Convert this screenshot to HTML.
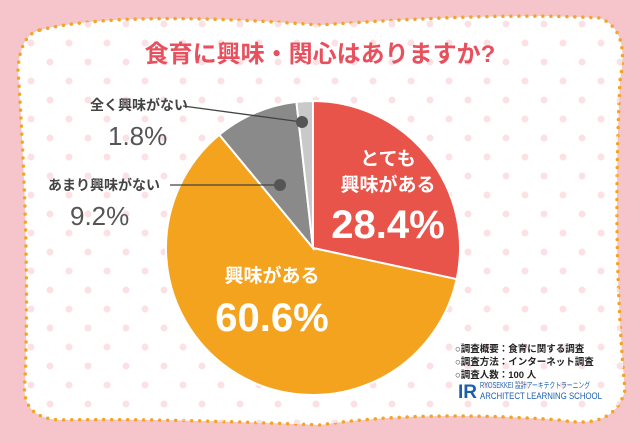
<!DOCTYPE html>
<html><head><meta charset="utf-8"><style>
html,body{margin:0;padding:0;width:640px;height:443px;overflow:hidden;background:#f5c5cb}
text{font-family:"Liberation Sans","Noto Sans CJK JP",sans-serif}
</style></head><body>
<svg width="640" height="443" viewBox="0 0 640 443">
<defs>
<pattern id="dots" width="38" height="38" patternUnits="userSpaceOnUse" x="2" y="14">
<circle cx="10" cy="10" r="3.5" fill="#fbe1e4"/><circle cx="29" cy="29" r="3.5" fill="#fbe1e4"/>
</pattern>
</defs>
<path d="M40,30 Q120,10 320,25 Q500,12 600,18 Q630,30 620,80 Q612,250 625,390 Q615,430 560,420 Q420,410 320,425 Q150,418 60,420 Q20,418 25,380 Q30,250 18,70 Q20,35 40,30 Z" fill="#fff" stroke="#f2a623" stroke-width="3.5" stroke-dasharray="0 8" stroke-linecap="round"/>
<path d="M40,30 Q120,10 320,25 Q500,12 600,18 Q630,30 620,80 Q612,250 625,390 Q615,430 560,420 Q420,410 320,425 Q150,418 60,420 Q20,418 25,380 Q30,250 18,70 Q20,35 40,30 Z" fill="url(#dots)"/>
<text x="320" y="62" text-anchor="middle" font-size="24" font-weight="bold" fill="#e8505e">食育に興味・関心はありますか?</text>
<g id="pie"></g>
<line x1="183" y1="106" x2="302" y2="122" stroke="#444" stroke-width="1.3"/>
<circle cx="302" cy="122" r="6" fill="#555"/>
<line x1="170" y1="185" x2="280" y2="185" stroke="#444" stroke-width="1.3"/>
<circle cx="280" cy="185" r="6" fill="#555"/>
<text x="90" y="110" font-size="14" font-weight="bold" fill="#444">全く興味がない</text>
<text x="108" y="145" font-size="26" fill="#555">1.8%</text>
<text x="48" y="190" font-size="14" font-weight="bold" fill="#444">あまり興味がない</text>
<text x="70" y="225" font-size="26" fill="#555">9.2%</text>
<text x="388" y="165" text-anchor="middle" font-size="19" font-weight="bold" fill="#fff">とても</text>
<text x="388" y="191" text-anchor="middle" font-size="19" font-weight="bold" fill="#fff">興味がある</text>
<text x="388" y="238" text-anchor="middle" font-size="40" font-weight="bold" fill="#fff">28.4%</text>
<text x="272" y="282" text-anchor="middle" font-size="19" font-weight="bold" fill="#fff">興味がある</text>
<text x="272" y="331" text-anchor="middle" font-size="40" font-weight="bold" fill="#fff">60.6%</text>
<g font-size="9.5" font-weight="bold" fill="#222">
<text x="455" y="352">○調査概要：食育に関する調査</text>
<text x="455" y="365">○調査方法：インターネット調査</text>
<text x="455" y="378">○調査人数：100 人</text>
</g>
<g fill="#1a5fae">
<text x="458" y="398" font-size="19" font-weight="bold">IR</text>
<text x="480" y="388" font-size="8" textLength="110" lengthAdjust="spacingAndGlyphs">RYOSEKKEI 設計アーキテクトラーニング</text>
<text x="480" y="399" font-size="9" textLength="122" lengthAdjust="spacingAndGlyphs">ARCHITECT LEARNING SCHOOL</text>
</g>
</svg>
<script>
const categories=["とても興味がある","興味がある","あまり興味がない","全く興味がない"];
const values=[28.4,60.6,9.2,1.8];
const colors=["#e8534a","#f4a31f","#8a8a8a","#c9c9c9"];
const cx=313,cy=248,r=147;
const g=document.getElementById('pie');
const total=values.reduce((a,b)=>a+b,0);
let a0=-Math.PI/2;
values.forEach((v,i)=>{
  const a1=a0+v/total*2*Math.PI;
  const x0=cx+r*Math.cos(a0),y0=cy+r*Math.sin(a0),x1=cx+r*Math.cos(a1),y1=cy+r*Math.sin(a1);
  const p=document.createElementNS('http://www.w3.org/2000/svg','path');
  p.setAttribute('d',`M${cx},${cy}L${x0},${y0}A${r},${r} 0 ${a1-a0>Math.PI?1:0} 1 ${x1},${y1}Z`);
  p.setAttribute('fill',colors[i]);p.setAttribute('stroke','#fff');p.setAttribute('stroke-width','2');
  
  
  g.appendChild(p);a0=a1;
});
</script>
</body></html>
